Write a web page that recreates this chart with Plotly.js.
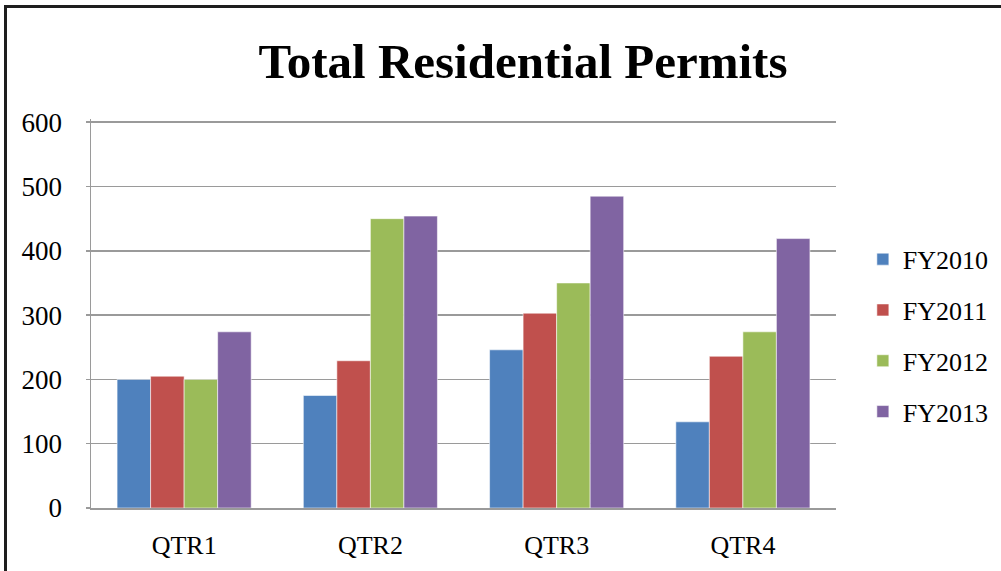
<!DOCTYPE html>
<html>
<head>
<meta charset="utf-8">
<script src="https://cdn.plot.ly/plotly-3.0.1.min.js"></script>
<style>
  html, body { margin: 0; padding: 0; background: #fff; }
  #chart { width: 1001px; height: 571px; position: absolute; left: 0; top: 0; }
  #frame { position: absolute; left: 4px; top: 5px; width: 1010px; height: 580px;
           border-left: 3px solid #1e1e1e; border-top: 3px solid #1e1e1e;
           pointer-events: none; box-sizing: border-box; }
</style>
</head>
<body>
<div id="chart"></div>
<div id="frame"></div>
<script>
const categories = ["QTR1", "QTR2", "QTR3", "QTR4"];
const seriesNames = ["FY2010", "FY2011", "FY2012", "FY2013"];
const fy2010 = [200, 175, 246, 134];
const fy2011 = [205, 229, 303, 236];
const fy2012 = [200, 450, 350, 274];
const fy2013 = [274, 454, 485, 419];
const colors = ["#4F81BD", "#C0504D", "#9BBB59", "#8064A2"];
const yTicks = [0, 100, 200, 300, 400, 500, 600];

const allValues = [fy2010, fy2011, fy2012, fy2013];
const traces = allValues.map((vals, i) => ({
  type: "bar",
  name: seriesNames[i],
  x: categories,
  y: vals,
  legendgroup: "g" + i,
  marker: { color: colors[i], line: { color: "rgba(255,255,255,0.55)", width: 1 } },
  hoverinfo: "x+y+name"
}));

const serif = "Liberation Serif, Times New Roman, serif";

const layout = {
  width: 1001,
  height: 571,
  margin: { l: 91, r: 165, t: 119, b: 63 },
  paper_bgcolor: "#ffffff",
  plot_bgcolor: "#ffffff",
  barmode: "group",
  bargap: 0.28,
  bargroupgap: 0,
  showlegend: true,
  title: {
    text: "<b>Total Residential Permits</b>",
    font: { family: serif, size: 49, color: "#000" },
    xref: "container", yref: "container",
    x: 0.5225, xanchor: "center",
    y: 0.893, yanchor: "middle"
  },
  xaxis: {
    type: "category",
    showline: true,
    linecolor: "#9a9a9a",
    linewidth: 1.5,
    showgrid: false,
    ticks: "",
    tickfont: { family: serif, size: 26, color: "#000" },
    ticklabelstandoff: 13,
    zeroline: false
  },
  yaxis: {
    range: [0, 605],
    tickvals: yTicks,
    ticktext: yTicks.map(String),
    showline: true,
    linecolor: "#9a9a9a",
    linewidth: 1.5,
    showgrid: true,
    gridcolor: "#9a9a9a",
    gridwidth: 1.5,
    zeroline: false,
    ticks: "outside",
    ticklen: 4,
    tickcolor: "#9a9a9a",
    tickwidth: 1.5,
    tickfont: { family: serif, size: 27, color: "#000" },
    ticklabelstandoff: 18
  },
  legend: {
    x: 0.862, xref: "container", xanchor: "left",
    y: 0.412, yanchor: "middle", yref: "container",
    font: { family: serif, size: 26, color: "#000" },
    tracegroupgap: 14,
    bgcolor: "rgba(0,0,0,0)",
    itemwidth: 30
  }
};

Plotly.newPlot("chart", traces, layout, { displayModeBar: false, staticPlot: true });
</script>
</body>
</html>
